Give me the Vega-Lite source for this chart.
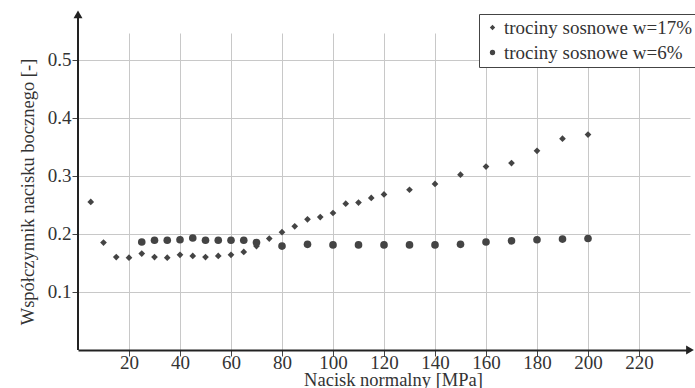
{
  "$schema": "https://vega.github.io/schema/vega-lite/v6.json",
  "width": 612,
  "height": 317,
  "autosize": {"type": "none"},
  "padding": {"left": 78, "top": 33, "right": 5, "bottom": 38},
  "background": "white",
  "config": {
    "view": {"stroke": null},
    "font": "Liberation Serif",
    "axis": {
      "grid": true, "gridColor": "#c8c8c8", "gridWidth": 1, "gridOpacity": 1,
      "domainColor": "#222", "domainWidth": 2,
      "tickColor": "#444", "tickSize": 6,
      "labelFont": "Liberation Serif", "labelFontSize": 19, "labelColor": "#333",
      "titleFont": "Liberation Serif", "titleFontSize": 18.5, "titleFontWeight": "normal", "titleColor": "#333"
    },
    "legend": {
      "labelFont": "Liberation Serif", "labelFontSize": 19, "labelColor": "#333", "labelLimit": 400
    }
  },
  "datasets": {
    "pts": [
      {"p": 5, "k": 0.255, "s": "trociny sosnowe w=17%"},
      {"p": 10, "k": 0.185, "s": "trociny sosnowe w=17%"},
      {"p": 15, "k": 0.160, "s": "trociny sosnowe w=17%"},
      {"p": 20, "k": 0.159, "s": "trociny sosnowe w=17%"},
      {"p": 25, "k": 0.166, "s": "trociny sosnowe w=17%"},
      {"p": 30, "k": 0.160, "s": "trociny sosnowe w=17%"},
      {"p": 35, "k": 0.159, "s": "trociny sosnowe w=17%"},
      {"p": 40, "k": 0.164, "s": "trociny sosnowe w=17%"},
      {"p": 45, "k": 0.162, "s": "trociny sosnowe w=17%"},
      {"p": 50, "k": 0.160, "s": "trociny sosnowe w=17%"},
      {"p": 55, "k": 0.162, "s": "trociny sosnowe w=17%"},
      {"p": 60, "k": 0.164, "s": "trociny sosnowe w=17%"},
      {"p": 65, "k": 0.169, "s": "trociny sosnowe w=17%"},
      {"p": 70, "k": 0.179, "s": "trociny sosnowe w=17%"},
      {"p": 75, "k": 0.192, "s": "trociny sosnowe w=17%"},
      {"p": 80, "k": 0.203, "s": "trociny sosnowe w=17%"},
      {"p": 85, "k": 0.213, "s": "trociny sosnowe w=17%"},
      {"p": 90, "k": 0.225, "s": "trociny sosnowe w=17%"},
      {"p": 95, "k": 0.229, "s": "trociny sosnowe w=17%"},
      {"p": 100, "k": 0.236, "s": "trociny sosnowe w=17%"},
      {"p": 105, "k": 0.252, "s": "trociny sosnowe w=17%"},
      {"p": 110, "k": 0.254, "s": "trociny sosnowe w=17%"},
      {"p": 115, "k": 0.262, "s": "trociny sosnowe w=17%"},
      {"p": 120, "k": 0.268, "s": "trociny sosnowe w=17%"},
      {"p": 130, "k": 0.276, "s": "trociny sosnowe w=17%"},
      {"p": 140, "k": 0.286, "s": "trociny sosnowe w=17%"},
      {"p": 150, "k": 0.302, "s": "trociny sosnowe w=17%"},
      {"p": 160, "k": 0.316, "s": "trociny sosnowe w=17%"},
      {"p": 170, "k": 0.322, "s": "trociny sosnowe w=17%"},
      {"p": 180, "k": 0.343, "s": "trociny sosnowe w=17%"},
      {"p": 190, "k": 0.364, "s": "trociny sosnowe w=17%"},
      {"p": 200, "k": 0.371, "s": "trociny sosnowe w=17%"},
      {"p": 25, "k": 0.186, "s": "trociny sosnowe w=6%"},
      {"p": 30, "k": 0.189, "s": "trociny sosnowe w=6%"},
      {"p": 35, "k": 0.189, "s": "trociny sosnowe w=6%"},
      {"p": 40, "k": 0.190, "s": "trociny sosnowe w=6%"},
      {"p": 45, "k": 0.193, "s": "trociny sosnowe w=6%"},
      {"p": 50, "k": 0.189, "s": "trociny sosnowe w=6%"},
      {"p": 55, "k": 0.189, "s": "trociny sosnowe w=6%"},
      {"p": 60, "k": 0.189, "s": "trociny sosnowe w=6%"},
      {"p": 65, "k": 0.189, "s": "trociny sosnowe w=6%"},
      {"p": 70, "k": 0.185, "s": "trociny sosnowe w=6%"},
      {"p": 80, "k": 0.179, "s": "trociny sosnowe w=6%"},
      {"p": 90, "k": 0.182, "s": "trociny sosnowe w=6%"},
      {"p": 100, "k": 0.181, "s": "trociny sosnowe w=6%"},
      {"p": 110, "k": 0.181, "s": "trociny sosnowe w=6%"},
      {"p": 120, "k": 0.181, "s": "trociny sosnowe w=6%"},
      {"p": 130, "k": 0.181, "s": "trociny sosnowe w=6%"},
      {"p": 140, "k": 0.181, "s": "trociny sosnowe w=6%"},
      {"p": 150, "k": 0.182, "s": "trociny sosnowe w=6%"},
      {"p": 160, "k": 0.186, "s": "trociny sosnowe w=6%"},
      {"p": 170, "k": 0.188, "s": "trociny sosnowe w=6%"},
      {"p": 180, "k": 0.190, "s": "trociny sosnowe w=6%"},
      {"p": 190, "k": 0.191, "s": "trociny sosnowe w=6%"},
      {"p": 200, "k": 0.192, "s": "trociny sosnowe w=6%"}
    ],
    "one": [{}]
  },
  "layer": [
    {
      "data": {"name": "pts"},
      "mark": {"type": "point", "filled": true, "opacity": 1},
      "encoding": {
        "x": {
          "field": "p", "type": "quantitative",
          "scale": {"domain": [0, 240], "nice": false, "zero": false},
          "axis": {
            "title": "Nacisk normalny [MPa]",
            "values": [20, 40, 60, 80, 100, 120, 140, 160, 180, 200, 220],
            "grid": true,
            "labelPadding": -3,
            "titlePadding": -2,
            "titleX": 315,
            "titleAnchor": "start",
            "titleAlign": "center"
          }
        },
        "y": {
          "field": "k", "type": "quantitative",
          "scale": {"domain": [0, 0.546], "nice": false, "zero": false},
          "axis": {
            "title": "Współczynnik nacisku bocznego [-]",
            "values": [0.1, 0.2, 0.3, 0.4, 0.5],
            "format": ".1f",
            "grid": true,
            "domain": false,
            "labelPadding": 1,
            "titlePadding": 10
          }
        },
        "shape": {
          "field": "s", "type": "nominal",
          "scale": {"domain": ["trociny sosnowe w=17%", "trociny sosnowe w=6%"], "range": ["diamond", "circle"]},
          "legend": {
            "title": null,
            "orient": "none",
            "legendX": 401,
            "legendY": -19,
            "labelLimit": 400,
            "symbolFillColor": "#444", "symbolStrokeColor": "#444", "symbolSize": 28,
            "symbolOffset": 0,
            "labelOffset": 2,
            "rowPadding": 5,
            "padding": 4,
            "fillColor": "white", "strokeColor": "#444"
          }
        },
        "size": {
          "condition": {"test": "datum.s == 'trociny sosnowe w=6%'", "value": 58},
          "value": 45
        },
        "color": {"value": "#444"}
      }
    },
    {
      "data": {"name": "one"},
      "mark": {"type": "rule", "color": "#222", "strokeWidth": 2},
      "encoding": {
        "x": {"datum": 0, "type": "quantitative"},
        "y": {"datum": 0, "type": "quantitative"},
        "y2": {"datum": 0.575}
      }
    },
    {
      "data": {"name": "one"},
      "mark": {"type": "point", "filled": true, "opacity": 1, "size": 80, "color": "#222", "shape": "triangle-up"},
      "encoding": {
        "x": {"datum": 0, "type": "quantitative"},
        "y": {"datum": 0.578, "type": "quantitative"}
      }
    },
    {
      "data": {"name": "one"},
      "mark": {"type": "point", "filled": true, "opacity": 1, "size": 80, "color": "#222", "shape": "triangle-right"},
      "encoding": {
        "x": {"datum": 240, "type": "quantitative"},
        "y": {"datum": 0, "type": "quantitative"}
      }
    }
  ]
}
